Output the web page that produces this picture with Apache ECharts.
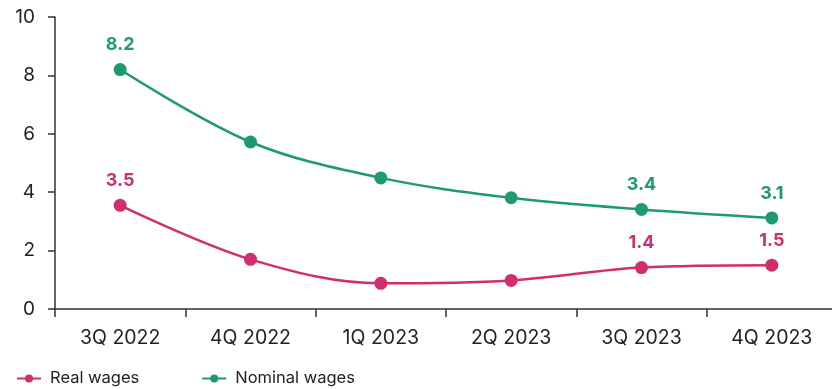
<!DOCTYPE html>
<html>
<head>
	<meta charset="utf-8">
	<title>Wages</title>
	<script src="https://cdn.jsdelivr.net/npm/echarts@6/dist/echarts.min.js"></script>
	<style type="text/css">
	html, body { margin: 0; padding: 0; background: #fff; }
	#chart { width: 832px; height: 389px; }
	</style>
</head>
<body>
	<div id="chart"></div>
<script type="text/javascript">
	// data
	var quarters = ['3Q 2022', '4Q 2022', '1Q 2023', '2Q 2023', '3Q 2023', '4Q 2023'];
	var realWages = [3.55, 1.7, 0.88, 0.98, 1.42, 1.5];
	var nominalWages = [8.2, 5.72, 4.49, 3.81, 3.41, 3.12];
	var realLabels = ['3.5', '', '', '', '1.4', '1.5'];
	var nominalLabels = ['8.2', '', '', '', '3.4', '3.1'];

	var green = '#1f9a6c';
	var pink = '#d12e6d';
	var font = 'Inter, "Liberation Sans", sans-serif';

	var chart = echarts.init(document.getElementById('chart'));

	function makeSeries(name, data, labels, color) {
		return {
			name: name,
			type: 'line',
			data: data,
			smooth: 0.35,
			symbol: 'circle',
			symbolSize: 13,
			lineStyle: { width: 2.5, color: color },
			itemStyle: { color: color },
			label: {
				show: true,
				position: 'top',
				distance: 9,
				color: color,
				fontFamily: font,
				fontWeight: 'bold',
				fontSize: 18,
				formatter: function (p) { return labels[p.dataIndex]; }
			}
		};
	}

	var option = {
		animation: false,
		grid: { left: 55, right: -5, top: 17, bottom: 80, outerBoundsMode: 'none' },
		legend: {
			left: 11,
			top: 365,
			itemGap: 62,
			itemWidth: 24,
			itemHeight: 10,
			textStyle: { fontFamily: font, fontSize: 16.5, color: '#222', padding: [0, 0, 0, 4] },
			data: ['Real wages', 'Nominal wages']
		},
		xAxis: {
			type: 'category',
			data: quarters,
			boundaryGap: true,
			axisLine: { lineStyle: { color: '#333', width: 1.5 } },
			axisTick: { show: true, length: 8, lineStyle: { color: '#333', width: 1.5 } },
			axisLabel: { fontFamily: font, fontSize: 19.5, color: '#222', margin: 19 }
		},
		yAxis: {
			type: 'value',
			min: 0,
			max: 10,
			interval: 2,
			splitLine: { show: false },
			axisLine: { show: true, lineStyle: { color: '#333', width: 1.5 } },
			axisTick: { show: true, length: 7, lineStyle: { color: '#333', width: 1.5 } },
			axisLabel: { fontFamily: font, fontSize: 19, color: '#222', margin: 20 }
		},
		series: [
			makeSeries('Real wages', realWages, realLabels, pink),
			makeSeries('Nominal wages', nominalWages, nominalLabels, green)
		]
	};
	chart.setOption(option);
</script>
</body>
</html>
